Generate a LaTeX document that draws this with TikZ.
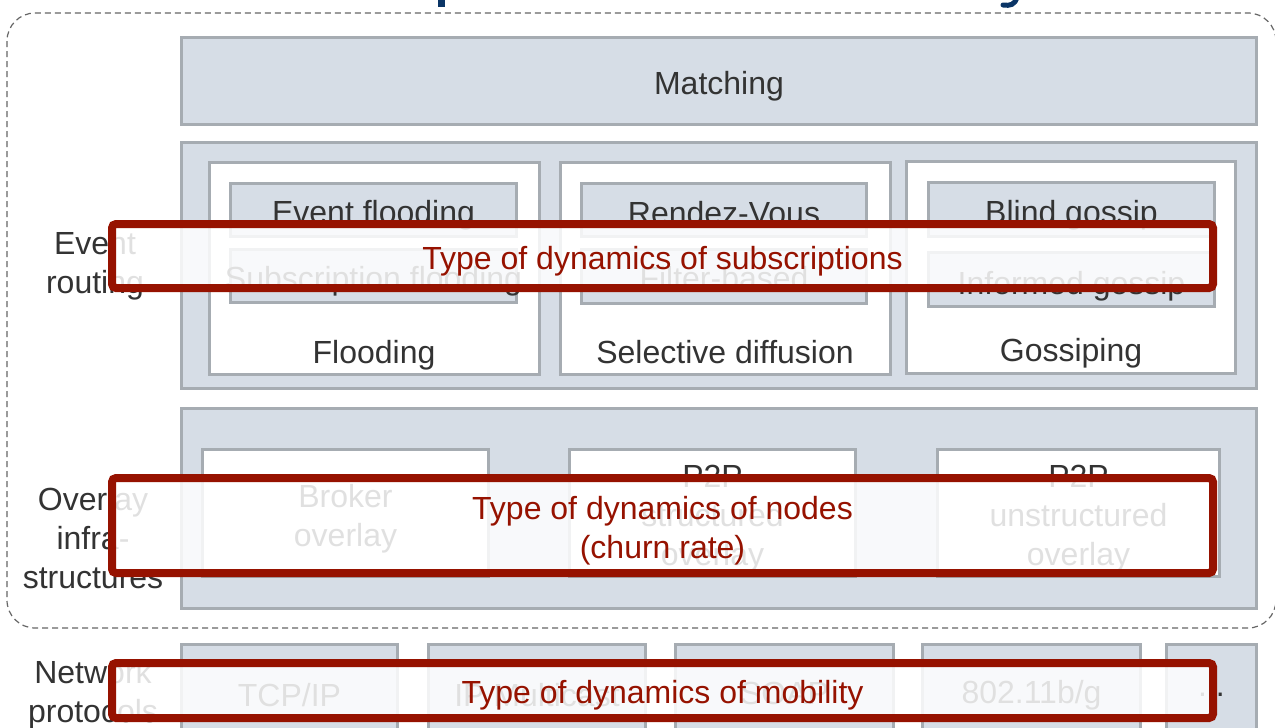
\documentclass[tikz,border=0pt]{standalone}
\usepackage{fontspec}
\setmainfont{Liberation Sans}
\definecolor{boxfill}{HTML}{D6DDE6}
\definecolor{boxline}{HTML}{A6ACB2}
\definecolor{txt}{HTML}{333333}
\definecolor{dred}{HTML}{961200}
\definecolor{navy}{HTML}{0B3566}
\definecolor{dashc}{HTML}{666666}
\tikzset{
  base/.style={inner sep=0pt, outer sep=0pt, line width=3pt, draw=boxline},
  graybox/.style={base, fill=boxfill},
  whitebox/.style={base, fill=white},
  lbl/.style={inner sep=0pt, text=txt, font=\fontsize{32}{39}\selectfont, align=center, yshift=-5pt},
  redlbl/.style={lbl, text=dred},
  redbox/.style={inner sep=0pt, outer sep=0pt, draw=dred, line width=8pt, rounded corners=4pt,
    fill=white, fill opacity=0.85},
  dashbox/.style={draw=dashc, line width=1.2pt, dash pattern=on 6pt off 4pt, rounded corners=28pt}
}
\begin{document}
\begin{tikzpicture}[x=1pt,y=-1pt]
\useasboundingbox (0,0) rectangle (1275,728);
\clip (0,0) rectangle (1275,728);
% title fragments
\fill[navy] (438,-2) rectangle (445,7);
\draw[navy, line width=5pt, line cap=round] (1017,-3) .. controls (1015,5) and (1010,6) .. (1003,5);
% dashed frame
\draw[dashbox] (7,13) rectangle (1276,628);
% Matching
\node[graybox, minimum width=1075pt, minimum height=87pt] (match) at (719,81) {};
\node[lbl] (matchl) at (719,81) {Matching};
% Event routing
\node[graybox, minimum width=1075pt, minimum height=246pt] (routing) at (719,265.5) {};
\node[whitebox, minimum width=330pt, minimum height=212pt] (flood) at (374.5,268.5) {};
\node[whitebox, minimum width=330pt, minimum height=212pt] (selec) at (725.5,268.5) {};
\node[whitebox, minimum width=329pt, minimum height=212pt] (gossip) at (1071,267.5) {};
\node[graybox, minimum width=286pt, minimum height=53pt] (evfl) at (373.5,210) {};
\node[graybox, minimum width=286pt, minimum height=53pt] (subfl) at (373.5,276) {};
\node[graybox, minimum width=285pt, minimum height=53pt] (rdv) at (724,210) {};
\node[graybox, minimum width=285pt, minimum height=54pt] (filt) at (724,276.5) {};
\node[graybox, minimum width=286pt, minimum height=54pt] (blind) at (1071.5,209.5) {};
\node[graybox, minimum width=286pt, minimum height=54pt] (inform) at (1071.5,279.5) {};
\node[lbl] (evfll) at (373.5,210) {Event flooding};
\node[lbl] (subfll) at (373.5,276) {Subscription flooding};
\node[lbl] (rdvl) at (724,208) {Rendez-Vous};
\node[lbl] (filtl) at (724,273) {Filter-based};
\node[lbl] (blindl) at (1071.5,210) {Blind gossip};
\node[lbl] (informl) at (1071.5,281) {Informed gossip};
\node[lbl] (floodl) at (374,350) {Flooding};
\node[lbl] (selecl) at (725,347) {Selective diffusion};
\node[lbl] (gossipl) at (1071,348) {Gossiping};
% Overlay infrastructures
\node[graybox, minimum width=1075pt, minimum height=200pt] (overlay) at (719,508.5) {};
\node[whitebox, minimum width=286pt, minimum height=127pt] (broker) at (345.5,513) {};
\node[whitebox, minimum width=286pt, minimum height=127pt] (p2ps) at (712.5,513) {};
\node[whitebox, minimum width=282pt, minimum height=127pt] (p2pu) at (1078.5,513) {};
\node[lbl] (brokerl) at (345.5,514) {Broker\\overlay};
\node[lbl] (p2psl) at (712.5,514) {P2P\\structured\\overlay};
\node[lbl] (p2pul) at (1078.5,514) {P2P\\unstructured\\overlay};
% Network protocols
\node[graybox, minimum width=216pt, minimum height=116pt] (tcp) at (289.5,702) {};
\node[graybox, minimum width=217pt, minimum height=116pt] (ipm) at (537,702) {};
\node[graybox, minimum width=218pt, minimum height=116pt] (soap) at (784.5,702) {};
\node[graybox, minimum width=218pt, minimum height=116pt] (wifi) at (1031.5,702) {};
\node[graybox, minimum width=90pt, minimum height=116pt] (more) at (1211.5,702) {};
\node[lbl] (tcpl) at (289.5,690) {TCP/IP};
\node[lbl] (ipml) at (537,690) {IP Multicast};
\node[lbl] (soapl) at (784.5,688) {SOAP};
\node[lbl] (wifil) at (1031.5,690) {802.11b/g};
\node[lbl] (morel) at (1211.5,690) {...};
% layer labels
\node[lbl] (evr) at (95,261) {Event\\routing};
\node[lbl] (ovl) at (93,533) {Overlay\\infra-\\structures};
\node[lbl] (netp) at (93,690) {Network\\protocols};
% red overlays
\node[redbox, minimum width=1101pt, minimum height=64pt] (rsub) at (662.5,256) {};
\node[redlbl] (rsubl) at (rsub.center) {Type of dynamics of subscriptions};
\node[redbox, minimum width=1101pt, minimum height=95pt] (rnode) at (662.5,525.5) {};
\node[redlbl] (rnodel) at (rnode.center) {Type of dynamics of nodes\\(churn rate)};
\node[redbox, minimum width=1101pt, minimum height=55pt] (rmob) at (662.5,690.5) {};
\node[redlbl] (rmobl) at (rmob.center) {Type of dynamics of mobility};
\end{tikzpicture}
\end{document}
